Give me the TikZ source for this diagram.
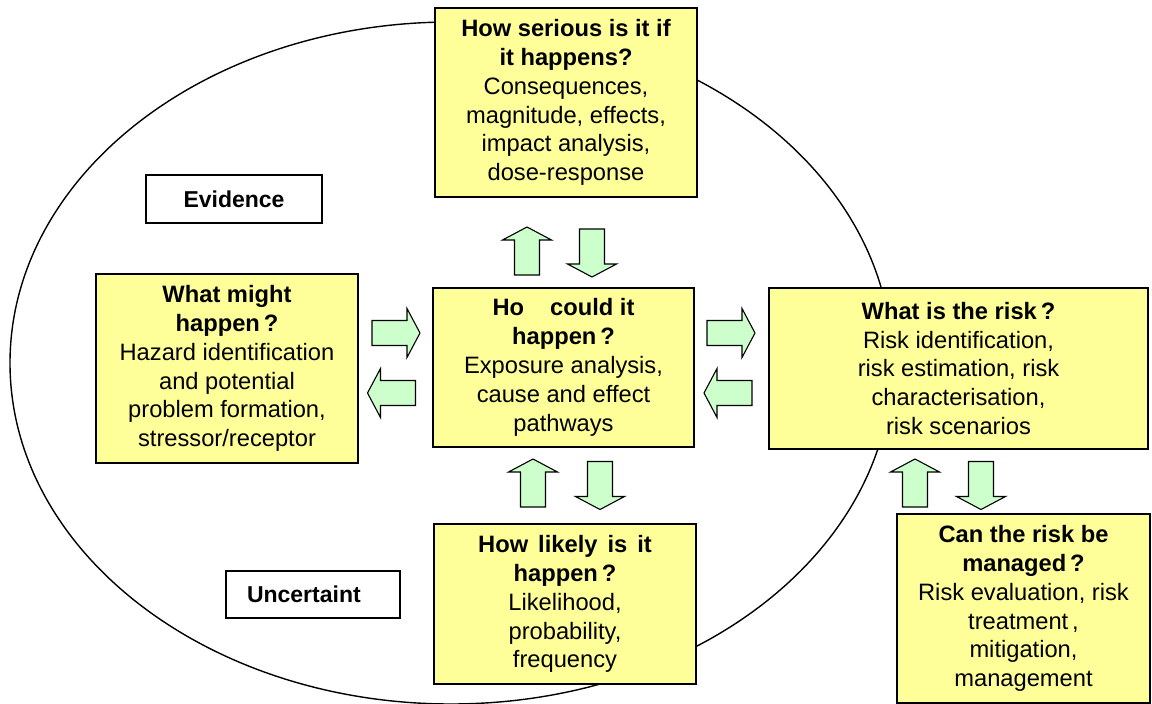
\documentclass[tikz,border=0pt]{standalone}
\usepackage{fontspec}
\setmainfont{Liberation Sans}
\definecolor{boxyellow}{HTML}{FFFF99}
\definecolor{arrowgreen}{HTML}{CCFFCC}
% block arrow pointing right, centred at (#1,#2), turned by #3 degrees
\newcommand{\blockarrow}[3]{%
  \draw[fatarrow, shift={(#1,#2)}, rotate=#3]
    (-24,-12.5) -- (11,-12.5) -- (11,-24.5) -- (24,0) -- (11,24.5)
    -- (11,12.5) -- (-24,12.5) -- cycle;}
\begin{document}
\begin{tikzpicture}[x=1pt,y=-1pt,
  qbox/.style={draw=black, line width=1.4pt, fill=boxyellow, align=center,
    inner sep=0pt, font=\fontsize{23.7}{28.9}\selectfont},
  tag/.style={draw=black, line width=1.2pt, fill=white, inner sep=0pt,
    font=\bfseries\fontsize{23}{27}\selectfont},
  fatarrow/.style={draw=black, line width=1.1pt, fill=arrowgreen, line join=miter}]
\useasboundingbox (0,0) rectangle (1152,704);

% outer cycle
\draw[line width=1.4pt] (451,363) ellipse [x radius=441, y radius=341];

% question boxes
\node[qbox, minimum width=262pt, minimum height=189pt] (serious) at (566,102.5)
  {\textbf{How serious is it if}\\ \textbf{it happens?}\\ Consequences,\\
   magnitude, effects,\\ impact analysis,\\ dose-response};
\node[qbox, minimum width=261pt, minimum height=159pt] (how) at (563.5,367.5)
  {\textbf{Ho\hspace{26pt}could it}\\ \textbf{happen\,?}\\ Exposure analysis,\\
   cause and effect\\ pathways};
\node[qbox, minimum width=262pt, minimum height=189pt] (might) at (227,368.5)
  {\textbf{What might}\\ \textbf{happen\,?}\\ Hazard identification\\
   and potential\\ problem formation,\\ stressor/receptor};
\node[qbox, minimum width=379pt, minimum height=161pt] (risk) at (958.5,368.5)
  {\textbf{What is the risk\,?}\\ Risk identification,\\ risk estimation, risk\\
   characterisation,\\ risk scenarios};
\node[qbox, minimum width=262pt, minimum height=160pt] (likely) at (565,604)
  {\textbf{How\hspace{10pt}likely\hspace{10pt}is\hspace{10pt}it}\\ \textbf{happen\,?}\\
   Likelihood,\\ probability,\\ frequency};
\node[qbox, minimum width=253pt, minimum height=189pt] (managed) at (1023.5,608.5)
  {\textbf{Can the risk be}\\ \textbf{managed\,?}\\ Risk evaluation, risk\\
   treatment\,,\\ mitigation,\\ management};

% side labels
\node[tag, minimum width=176pt, minimum height=48pt] (evidence) at (234,199) {Evidence};
\node[tag, minimum height=47pt, inner xsep=21pt, text width=132pt, align=left]
  (uncert) at (313,594.5) {Uncertaint};

% block arrows between the boxes
\blockarrow{527}{251}{90}
\blockarrow{592}{253}{-90}
\blockarrow{396}{333}{0}
\blockarrow{391.5}{393}{180}
\blockarrow{731}{333}{0}
\blockarrow{728}{393}{180}
\blockarrow{533}{483}{90}
\blockarrow{600}{485.5}{-90}
\blockarrow{915}{483}{90}
\blockarrow{981}{485.5}{-90}
\end{tikzpicture}
\end{document}
